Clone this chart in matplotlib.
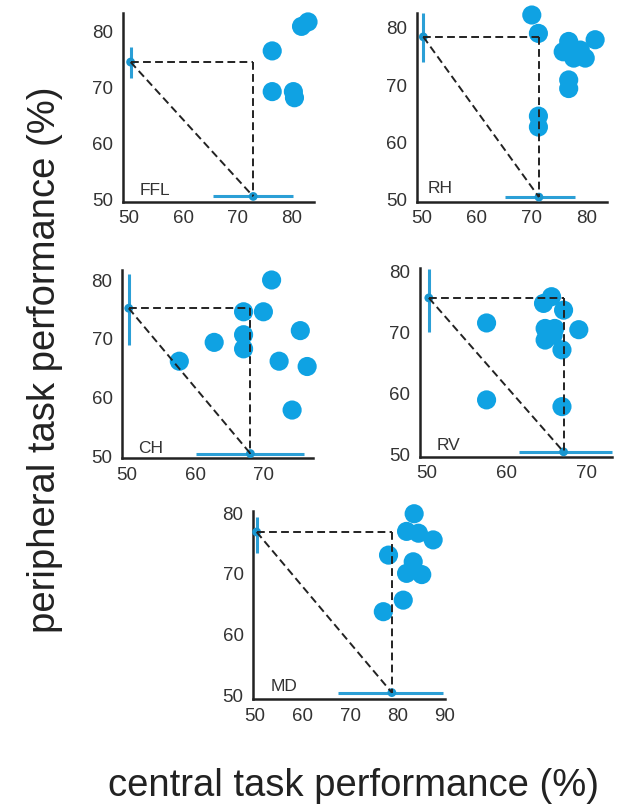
import matplotlib
matplotlib.use("Agg")
import matplotlib.pyplot as plt

plt.rcParams["font.family"] = ["Liberation Sans", "DejaVu Sans"]

# per-subject points (central %, peripheral %)
ffl_x = [81.8, 83.0, 76.4, 76.4, 80.3, 80.5]
ffl_y = [81.0, 81.8, 76.6, 69.3, 69.3, 68.2]
rh_x = [70.0, 71.2, 71.2, 71.2, 76.7, 81.5, 75.7, 77.6, 79.7, 78.8, 76.7, 76.7]
rh_y = [82.2, 79.0, 64.6, 62.7, 77.6, 77.9, 75.8, 74.7, 74.7, 76.1, 70.9, 69.4]
ch_x = [71.2, 67.1, 70.0, 62.8, 67.1, 67.1, 57.7, 72.3, 74.2, 75.4, 76.4]
ch_y = [80.0, 74.6, 74.6, 69.4, 70.7, 68.3, 66.2, 66.2, 57.9, 71.4, 65.3]
rv_x = [57.5, 57.5, 65.6, 64.6, 67.1, 64.8, 66.0, 69.0, 64.8, 65.8, 66.9, 66.9]
rv_y = [71.6, 59.0, 75.9, 74.8, 73.7, 70.7, 70.7, 70.5, 68.8, 69.6, 67.2, 57.9]
md_x = [83.5, 81.9, 84.4, 87.5, 78.1, 83.3, 81.9, 85.1, 81.2, 77.0]
md_y = [79.9, 77.0, 76.7, 75.6, 73.1, 72.0, 70.1, 69.9, 65.7, 63.8]

# group means and error bar ranges
ffl_mean = (72.9, 74.6)
rh_mean = (71.3, 78.4)
ch_mean = (68.1, 75.2)
rv_mean = (67.1, 75.7)
md_mean = (78.8, 76.9)
ffl_xerr = (65.5, 80.3)
rh_xerr = (65.1, 77.9)
ch_xerr = (60.2, 75.9)
rv_xerr = (61.5, 73.1)
md_xerr = (67.5, 89.6)
ffl_yerr = (71.7, 77.3)
rh_yerr = (74.1, 82.5)
ch_yerr = (68.9, 81.1)
rv_yerr = (70.2, 80.5)
md_yerr = (73.5, 79.4)

names = ["FFL", "RH", "CH", "RV", "MD"]
xticks = {
    "FFL": [50, 60, 70, 80],
    "RH": [50, 60, 70, 80],
    "CH": [50, 60, 70],
    "RV": [50, 60, 70],
    "MD": [50, 60, 70, 80, 90],
}
yticks = [50, 60, 70, 80]

DOT = "#0fa2e3"
BAR = "#2b9fd6"
INK = "#222222"
TXT = "#333333"

W, H = 640, 810


def main():
    fig = plt.figure(figsize=(W / 100, H / 100), dpi=100)

    # pixel boxes (left, right, top, bottom) and data limits
    layout = {
        "FFL": ((123, 314, 13, 202), (48.9, 84.1), (49.5, 83.4), (52.0, 50.7)),
        "RH": ((416.7, 606.7, 13.3, 201.7), (49.1, 83.6), (49.7, 82.5), (51.0, 51.2)),
        "CH": ((122.3, 313.3, 270, 458.3), (49.36, 77.3), (49.7, 81.7), (51.65, 50.6)),
        "RV": ((420, 611.7, 268.3, 456.7), (49.2, 73.1), (49.7, 80.55), (51.25, 50.8)),
        "MD": ((253.3, 445, 510.7, 699.3), (49.6, 90.0), (49.4, 80.4), (53.2, 50.7)),
    }
    data = {
        "FFL": (ffl_x, ffl_y, ffl_mean, ffl_xerr, ffl_yerr),
        "RH": (rh_x, rh_y, rh_mean, rh_xerr, rh_yerr),
        "CH": (ch_x, ch_y, ch_mean, ch_xerr, ch_yerr),
        "RV": (rv_x, rv_y, rv_mean, rv_xerr, rv_yerr),
        "MD": (md_x, md_y, md_mean, md_xerr, md_yerr),
    }

    for name in names:
        (l, r, t, b), xlim, ylim, lab = layout[name]
        ax = fig.add_axes([l / W, (H - b) / H, (r - l) / W, (b - t) / H])
        xs, ys, (mx, my), xerr, yerr = data[name]
        draw_panel(ax, name, xs, ys, mx, my, xerr, yerr, xlim, ylim, lab)

    fig.text(45 / W, 1 - 360 / H, "peripheral task performance (%)",
             rotation=90, ha="center", va="center", fontsize=27.5, color=INK)
    fig.text(353 / W, 1 - 786 / H, "central task performance (%)",
             ha="center", va="center", fontsize=27.5, color=INK)

    fig.savefig("out.png", dpi=100)


def draw_panel(ax, name, xs, ys, mx, my, xerr, yerr, xlim, ylim, lab):
    ax.scatter(xs, ys, s=190, color=DOT, edgecolors="none", zorder=2, clip_on=False)

    # error bars for the group mean, sitting on the axes
    ax.plot(xerr, [50.5, 50.5], color=BAR, lw=2.2, zorder=3, clip_on=False,
            solid_capstyle="butt")
    ax.plot([50.3, 50.3], yerr, color=BAR, lw=2.2, zorder=3, clip_on=False,
            solid_capstyle="butt")
    ax.scatter([mx, 50.3], [50.5, my], s=40, color="#1896d0", zorder=4,
               edgecolors="none", clip_on=False)

    # dashed guides
    dash = dict(color=INK, lw=1.4, dashes=(4, 2.2), zorder=5, clip_on=False)
    ax.plot([50.3, mx], [my, my], **dash)
    ax.plot([mx, mx], [my, 50.5], **dash)
    ax.plot([50.3, mx], [my, 50.5], **dash)

    ax.text(lab[0], lab[1], name, fontsize=12.5, color=TXT, va="baseline")

    ax.set_xlim(*xlim)
    ax.set_ylim(*ylim)
    ax.set_xticks(xticks[name])
    ax.set_yticks(yticks)
    ax.tick_params(length=0, labelsize=13.5, labelcolor=TXT, pad=6)
    ax.tick_params(axis="y", pad=7)
    for s in ["top", "right"]:
        ax.spines[s].set_visible(False)
    for s in ["left", "bottom"]:
        ax.spines[s].set_linewidth(1.8)
        ax.spines[s].set_color(INK)
    ax.patch.set_visible(False)


if __name__ == "__main__":
    main()
